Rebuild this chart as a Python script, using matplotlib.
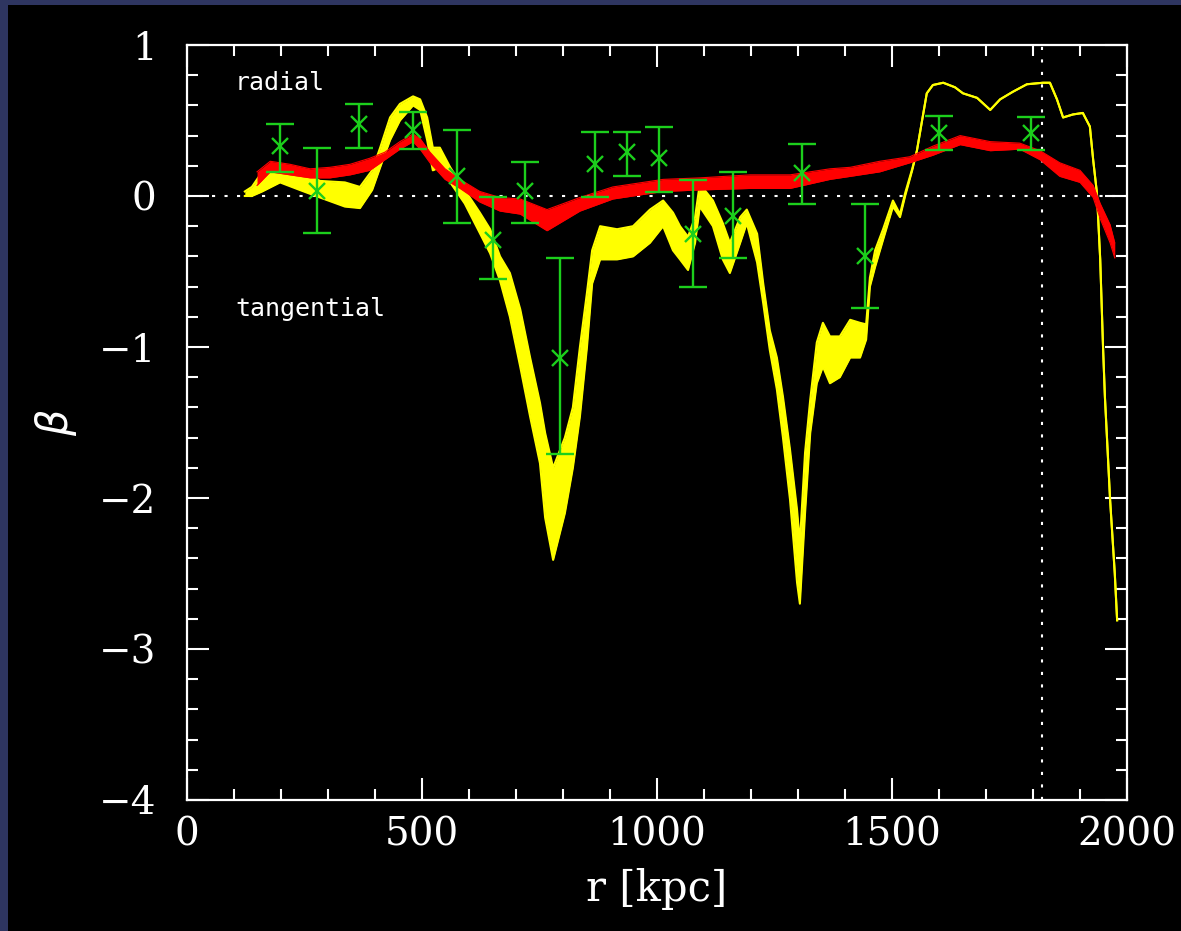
import numpy as np
import matplotlib
matplotlib.use('Agg')
import matplotlib.pyplot as plt
from matplotlib.patches import Rectangle

# yellow profile: radius [kpc], lower and upper edge of the noisy band
yel_r = [123, 138, 160, 198, 240, 283, 336, 368, 394, 411, 432, 453, 481, 496,
         511, 523, 538, 560, 591, 623, 645, 666, 687, 709, 730, 751, 762, 779,
         804, 821, 836, 851, 862, 879, 915, 949, 985, 1013, 1034, 1049, 1066,
         1081, 1091, 1119, 1140, 1155, 1177, 1191, 1213, 1226, 1240, 1255, 1268,
         1283, 1298, 1304, 1315, 1326, 1340, 1353, 1368, 1389, 1411, 1432, 1445,
         1453, 1464, 1481, 1502, 1517, 1528, 1543, 1553, 1564, 1574, 1587, 1609,
         1634, 1651, 1681, 1709, 1730, 1757, 1787, 1821, 1836, 1851, 1864, 1885,
         1906, 1921, 1928, 1936, 1943, 1949, 1953, 1964, 1974, 1979]
yel_lo = [0.0, 0.0, 0.03, 0.09, 0.04, -0.01, -0.07, -0.08, 0.04, 0.19, 0.37, 0.50,
          0.60, 0.57, 0.37, 0.17, 0.19, 0.09, -0.05, -0.245, -0.38, -0.56, -0.80,
          -1.13, -1.46, -1.77, -2.13, -2.41, -2.10, -1.80, -1.46, -1.00, -0.58,
          -0.42, -0.42, -0.40, -0.31, -0.20, -0.36, -0.42, -0.49, -0.31, -0.07,
          -0.20, -0.42, -0.51, -0.31, -0.18, -0.44, -0.71, -1.02, -1.28, -1.60,
          -2.01, -2.56, -2.70, -2.10, -1.57, -1.24, -1.13, -1.24, -1.20, -1.07,
          -1.07, -0.95, -0.60, -0.47, -0.29, -0.07, -0.14, 0.0, 0.17, 0.30, 0.50,
          0.68, 0.735, 0.75, 0.72, 0.68, 0.65, 0.57, 0.64, 0.69, 0.74, 0.75, 0.75,
          0.64, 0.52, 0.54, 0.55, 0.46, 0.24, 0.02, -0.42, -1.0, -1.33, -2.01,
          -2.5, -2.81]
yel_hi = [0.03, 0.06, 0.16, 0.19, 0.17, 0.10, 0.09, 0.06, 0.17, 0.32, 0.52, 0.61,
          0.66, 0.64, 0.52, 0.32, 0.32, 0.19, 0.04, -0.11, -0.22, -0.40, -0.51,
          -0.75, -1.07, -1.37, -1.57, -1.80, -1.60, -1.40, -1.00, -0.64, -0.36,
          -0.20, -0.22, -0.20, -0.09, -0.03, -0.11, -0.20, -0.27, -0.14, 0.08,
          -0.03, -0.18, -0.31, -0.14, -0.09, -0.25, -0.58, -0.89, -1.07, -1.33,
          -1.68, -2.08, -2.30, -1.70, -1.35, -0.97, -0.84, -0.93, -0.93, -0.82,
          -0.84, -0.85, -0.54, -0.36, -0.22, -0.03, -0.12, 0.02, 0.18, 0.30, 0.50,
          0.68, 0.735, 0.75, 0.72, 0.68, 0.65, 0.57, 0.64, 0.69, 0.74, 0.75, 0.75,
          0.64, 0.52, 0.54, 0.55, 0.46, 0.24, 0.02, -0.42, -1.0, -1.33, -2.01,
          -2.5, -2.81]

# red profile
red_r = [149, 177, 219, 262, 304, 347, 389, 421, 453, 481, 496, 517, 549, 581,
         623, 666, 709, 766, 836, 906, 1013, 1091, 1198, 1283, 1368, 1411, 1474,
         1538, 1587, 1645, 1709, 1772, 1815, 1857, 1900, 1928, 1943, 1964, 1974]
red_lo = [0.07, 0.16, 0.14, 0.12, 0.12, 0.14, 0.17, 0.24, 0.31, 0.36, 0.31, 0.22,
          0.11, 0.05, -0.04, -0.10, -0.12, -0.23, -0.10, -0.02, 0.03, 0.04, 0.05,
          0.05, 0.11, 0.13, 0.16, 0.22, 0.27, 0.34, 0.30, 0.31, 0.24, 0.13, 0.09,
          -0.01, -0.15, -0.31, -0.41]
red_hi = [0.16, 0.23, 0.21, 0.18, 0.19, 0.21, 0.25, 0.29, 0.36, 0.41, 0.38, 0.29,
          0.18, 0.11, 0.03, -0.01, -0.02, -0.09, -0.01, 0.06, 0.11, 0.12, 0.14, 0.14,
          0.18, 0.19, 0.23, 0.26, 0.33, 0.40, 0.36, 0.35, 0.30, 0.22, 0.17, 0.07,
          -0.05, -0.19, -0.31]

# green measurements with errors
pts_r = [198, 277, 366, 481, 574, 651, 719, 794, 868, 936, 1004, 1077, 1161,
         1308, 1443, 1600, 1796]
pts_beta = [0.33, 0.03, 0.48, 0.44, 0.13, -0.29, 0.03, -1.07, 0.21, 0.29, 0.25,
            -0.25, -0.13, 0.15, -0.40, 0.42, 0.42]
pts_up = [0.477, 0.32, 0.61, 0.556, 0.437, -0.007, 0.225, -0.41, 0.424, 0.424,
          0.46, 0.106, 0.16, 0.344, -0.053, 0.53, 0.523]
pts_dn = [0.16, -0.245, 0.32, 0.31, -0.18, -0.55, -0.18, -1.71, -0.007, 0.13,
          0.026, -0.6, -0.41, -0.053, -0.74, 0.305, 0.305]

r_vir = 1819

YELLOW = '#ffff00'
RED = '#ff0000'
GREEN = '#1ccf1c'

fig = plt.figure(figsize=(11.81, 9.31), dpi=100, facecolor='#2e3560')
fig.patches.append(Rectangle((8 / 1181, 0), 1, 926 / 931, transform=fig.transFigure,
                             facecolor='black', edgecolor='none', zorder=-10))

ax = fig.add_axes([187 / 1181, 131 / 931, 940 / 1181, 755 / 931])
ax.set_facecolor('black')

ax.fill_between(yel_r, yel_lo, yel_hi, color=YELLOW, lw=0, zorder=2)
ax.plot(yel_r, yel_lo, color=YELLOW, lw=1.5, zorder=2)
ax.plot(yel_r, yel_hi, color=YELLOW, lw=1.5, zorder=2)

ax.fill_between(red_r, red_lo, red_hi, color=RED, lw=0, zorder=3)
ax.plot(red_r, red_lo, color=RED, lw=0.8, zorder=3)
ax.plot(red_r, red_hi, color=RED, lw=0.8, zorder=3)

b = np.array(pts_beta)
yerr = [b - np.array(pts_dn), np.array(pts_up) - b]
ax.errorbar(pts_r, pts_beta, yerr=yerr, fmt='x', color=GREEN, ms=12, mew=1.7,
            elinewidth=1.7, capsize=10, capthick=1.7, zorder=4)

ax.axhline(0, color='white', lw=1.5, dashes=(1.5, 4.5), zorder=1)
ax.axvline(r_vir, color='white', lw=1.5, dashes=(1.5, 4.5), zorder=1)

ax.text(102, 0.75, 'radial', color='white', family='DejaVu Sans Mono',
        fontsize=18, va='center', ha='left')
ax.text(102, -0.75, 'tangential', color='white', family='DejaVu Sans Mono',
        fontsize=18, va='center', ha='left')

ax.set_xlim(0, 2000)
ax.set_ylim(-4, 1)
ax.set_xticks([0, 500, 1000, 1500, 2000])
ax.set_xticks(np.arange(0, 2001, 100), minor=True)
ax.set_yticks([-4, -3, -2, -1, 0, 1])
ax.set_yticks(np.arange(-4, 1.01, 0.2), minor=True)

for s in ax.spines.values():
    s.set_color('white')
    s.set_linewidth(1.6)
ax.tick_params(which='both', direction='in', top=True, right=True, colors='white',
               width=1.5)
ax.tick_params(which='major', length=16)
ax.tick_params(which='minor', length=8)
ax.tick_params(axis='x', labelsize=28, pad=12)
ax.tick_params(axis='y', labelsize=28, pad=22)
for lab in ax.get_xticklabels() + ax.get_yticklabels():
    lab.set_family('DejaVu Serif')

ax.set_xlabel('r [kpc]', color='white', family='DejaVu Serif', fontsize=30)
ax.xaxis.set_label_coords(0.5, -0.09)
ax.set_ylabel(r'$\beta$', color='white', fontsize=30)
ax.yaxis.set_label_coords(-0.115, 0.5)

fig.savefig('out.png', dpi=100, facecolor=fig.get_facecolor())
